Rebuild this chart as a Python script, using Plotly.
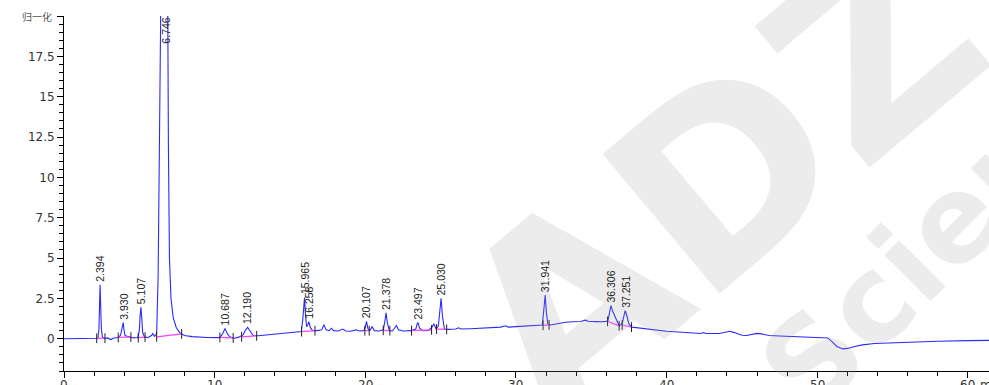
import plotly.graph_objects as go

# Chromatogram trace: retention time (min) and normalised detector signal
time_min = [
    0.0, 1.0, 2.0, 2.25, 2.32, 2.36, 2.394, 2.43, 2.48, 2.55, 2.7, 2.9, 3.1, 3.3,
    3.6, 3.75, 3.85, 3.93, 3.98, 4.05, 4.2, 4.35, 4.6, 4.9, 5.0, 5.05, 5.107, 5.16,
    5.22, 5.35, 5.6, 5.8, 5.9, 6.0, 6.15, 6.25, 6.35, 6.5, 6.746, 6.85, 6.93, 7.0,
    7.1, 7.25, 7.45, 7.7, 8.0, 8.5, 9.5, 10.3, 10.5, 10.687, 10.85, 11.0, 11.3,
    11.6, 11.9, 12.05, 12.19, 12.35, 12.55, 12.9, 13.5, 14.0, 14.5, 15.0, 15.5,
    15.75, 15.85, 15.93, 15.965, 16.02, 16.1, 16.18, 16.258, 16.35, 16.5, 16.8,
    17.1, 17.25, 17.4, 17.6, 17.75, 17.9, 18.2, 18.5, 18.7, 19.0, 19.4, 19.6, 19.9,
    20.0, 20.08, 20.18, 20.3, 20.45, 20.6, 20.9, 21.2, 21.3, 21.378, 21.46, 21.6,
    21.8, 22.0, 22.07, 22.2, 22.5, 23.0, 23.35, 23.45, 23.5, 23.6, 23.8, 24.2,
    24.45, 24.55, 24.7, 24.85, 24.95, 25.03, 25.12, 25.25, 25.5, 25.8, 26.0, 26.2,
    26.35, 27.0, 27.5, 28.0, 28.5, 29.0, 29.3, 29.5, 30.0, 30.5, 31.0, 31.5, 31.75,
    31.85, 31.941, 32.02, 32.12, 32.3, 32.8, 33.3, 33.8, 34.3, 34.6, 34.8, 35.3,
    35.8, 36.1, 36.22, 36.306, 36.4, 36.5, 36.65, 36.85, 37.05, 37.17, 37.251,
    37.34, 37.5, 37.7, 38.0, 38.5, 39.0, 39.5, 40.0, 41.0, 42.0, 42.3, 42.45, 42.6,
    43.5, 44.0, 44.2, 44.5, 45.0, 45.3, 45.7, 46.0, 46.3, 46.8, 47.5, 48.5, 49.5,
    50.3, 50.7, 51.0, 51.3, 51.7, 52.0, 52.5, 53.0, 53.8, 55.0, 56.5, 58.0, 60.0,
    61.4,
]
signal = [
    0.0, 0.0, 0.02, 0.03, 0.6, 2.4, 3.35, 2.2, 0.6, 0.1, 0.02, 0.05, -0.05, 0.05,
    0.08, 0.2, 0.6, 1.0, 0.55, 0.2, 0.15, 0.12, 0.05, 0.08, 0.5, 1.4, 1.95, 1.3,
    0.4, 0.1, 0.08, 0.2, 0.32, 0.15, 0.3, 4.0, 15.0, 28.0, 40.0, 28.0, 12.0, 5.0,
    2.5, 1.3, 0.7, 0.35, 0.2, 0.13, 0.08, 0.07, 0.25, 0.64, 0.3, 0.12, 0.03,
    0.1, 0.25, 0.55, 0.7, 0.45, 0.2, 0.18, 0.24, 0.28, 0.33, 0.38, 0.42,
    0.45, 1.2, 2.4, 2.55, 1.6, 0.75, 0.85, 1.05, 0.7, 0.5, 0.5,
    0.55, 0.87, 0.55, 0.5, 0.65, 0.5, 0.48, 0.6, 0.48, 0.46, 0.55, 0.48, 0.5,
    0.7, 1.07, 0.6, 0.5, 0.75, 0.5, 0.48, 0.55, 1.1, 1.6, 1.0, 0.5,
    0.48, 0.7, 0.82, 0.55, 0.48, 0.5, 0.6, 0.95, 1.0, 0.65, 0.5, 0.52,
    0.75, 0.93, 0.6, 0.8, 1.8, 2.5, 1.4, 0.6, 0.58, 0.6, 0.6, 0.68,
    0.6, 0.62, 0.65, 0.68, 0.7, 0.72, 0.8, 0.72, 0.75, 0.77, 0.8, 0.82, 0.85,
    1.8, 2.71, 1.6, 0.9, 0.85, 0.95, 1.02, 1.05, 1.07, 1.15, 1.08, 1.06,
    1.05, 1.1, 1.7, 2.05, 1.75, 1.55, 1.2, 0.8, 0.95, 1.5, 1.74,
    1.5, 0.9, 0.72, 0.68, 0.62, 0.55, 0.5, 0.46, 0.4, 0.34, 0.32, 0.38, 0.32,
    0.32, 0.42, 0.46, 0.38, 0.22, 0.2, 0.3, 0.33, 0.3, 0.2, 0.17, 0.14, 0.11,
    0.1, 0.05, -0.2, -0.48, -0.63, -0.6, -0.48, -0.38, -0.3, -0.25, -0.2, -0.16, -0.12,
    -0.1,
]

# Integrated peaks: retention time label and apex height
peak_rt = [2.394, 3.930, 5.107, 10.687, 12.190, 15.965, 16.258, 20.107, 21.378,
           23.497, 25.030, 31.941, 36.306, 37.251]
peak_label = ["2.394", "3.930", "5.107", "10.687", "12.190", "15.965", "16.258",
              "20.107", "21.378", "23.497", "25.030", "31.941", "36.306", "37.251"]
peak_height = [3.35, 1.0, 1.95, 0.64, 0.7, 2.55, 1.05, 1.07, 1.6, 1.0, 2.5,
               2.71, 2.05, 1.74]

# Off-scale main peak
main_rt = 6.746
main_label = "6.746"

# Integration baselines: start/end times and levels
base_start_t = [2.17, 3.6, 4.93, 6.15, 10.35, 11.79, 15.77, 19.97, 21.19, 23.07,
                24.73, 31.8, 36.08, 37.05]
base_start_v = [0.03, 0.08, 0.07, 0.12, 0.08, 0.12, 0.44, 0.5, 0.52, 0.5, 0.6,
                0.83, 1.08, 0.85]
base_end_t = [2.72, 4.44, 5.38, 7.81, 11.23, 12.79, 16.66, 20.26, 21.63, 24.4,
              25.4, 32.2, 36.85, 37.67]
base_end_v = [0.03, 0.1, 0.1, 0.3, 0.05, 0.18, 0.5, 0.5, 0.5, 0.55, 0.58,
              0.86, 0.8, 0.72]

x_tick_vals = [0, 10, 20, 30, 40, 50, 60]
x_tick_text = ["0", "10", "20", "30", "40", "50", "60 min"]
y_tick_vals = [0, 2.5, 5, 7.5, 10, 12.5, 15, 17.5, 20]
y_tick_text = ["0", "2.5", "5", "7.5", "10", "12.5", "15", "17.5", ""]

fig = go.Figure()

fig.add_trace(go.Scatter(
    x=time_min, y=signal, mode="lines",
    line=dict(color="#2a2aff", width=1.1), hoverinfo="skip", showlegend=False,
))

# magenta integration baselines
seg_x, seg_y = [], []
for t0, v0, t1, v1 in zip(base_start_t, base_start_v, base_end_t, base_end_v):
    seg_x += [t0, t1, None]
    seg_y += [v0, v1, None]
fig.add_trace(go.Scatter(
    x=seg_x, y=seg_y, mode="lines",
    line=dict(color="#ff40ff", width=1.2), hoverinfo="skip", showlegend=False,
))

# peak start/end markers
fig.add_trace(go.Scatter(
    x=base_start_t + base_end_t, y=base_start_v + base_end_v, mode="markers",
    marker=dict(symbol="line-ns-open", size=7, color="#202020",
                line=dict(color="#202020", width=1)),
    hoverinfo="skip", showlegend=False,
))

label_font = dict(family="Liberation Sans, Arial", size=10.5, color="#222222")
axis_font = dict(family="DejaVu Sans", size=12, color="#333333")
annotations = []
# background watermark
annotations.append(dict(
    x=0.71, y=0.54, xref="paper", yref="paper", text="<b>ADZ</b>", showarrow=False,
    xanchor="center", yanchor="middle", textangle=-40,
    font=dict(family="DejaVu Sans", size=250, color="rgba(150,150,150,0.18)"),
))
annotations.append(dict(
    x=0.975, y=0.46, xref="paper", yref="paper", text="<b>Science</b>", showarrow=False,
    xanchor="center", yanchor="middle", textangle=-45,
    font=dict(family="DejaVu Sans", size=120, color="rgba(150,150,150,0.18)"),
))
for t, lab, h in zip(peak_rt, peak_label, peak_height):
    annotations.append(dict(
        x=t, y=h, xref="x", yref="y", text=lab, textangle=-90, showarrow=False,
        xanchor="center", yanchor="bottom", yshift=1, font=label_font,
    ))
annotations.append(dict(
    x=main_rt, y=20, xref="x", yref="y", text=main_label, textangle=-90,
    showarrow=False, xanchor="center", yanchor="top", font=label_font,
))
# y-axis unit label at the top of the scale
annotations.append(dict(
    x=0, y=20, xref="paper", yref="y", text="归一化", showarrow=False,
    xanchor="right", yanchor="middle", xshift=-10,
    font=dict(family="Noto Sans CJK SC", size=10, color="#555555"),
))
# x tick labels, set just below the tick marks
for v, lab in zip(x_tick_vals, x_tick_text):
    if " " in lab:
        num, unit = lab.split(" ")
        annotations.append(dict(
            x=v, y=0, xref="x", yref="paper", text=num, showarrow=False,
            xanchor="center", yanchor="top", yshift=-5, font=axis_font,
        ))
        annotations.append(dict(
            x=v, y=0, xref="x", yref="paper", text=unit, showarrow=False,
            xanchor="left", yanchor="top", xshift=10, yshift=-5, font=axis_font,
        ))
    else:
        annotations.append(dict(
            x=v, y=0, xref="x", yref="paper", text=lab, showarrow=False,
            xanchor="center", yanchor="top", yshift=-5, font=axis_font,
        ))
fig.update_layout(annotations=annotations)

fig.update_layout(
    width=989, height=385,
    margin=dict(l=64, r=0, t=16, b=14, autoexpand=False),
    paper_bgcolor="white", plot_bgcolor="white",
    xaxis=dict(
        range=[0, 61.4], tickmode="array", tickvals=x_tick_vals, showticklabels=False,
        showgrid=False, zeroline=False, showline=True, linecolor="black", linewidth=1,
        ticks="outside", ticklen=6, tickcolor="black",
        minor=dict(tickmode="linear", tick0=0, dtick=2, ticks="outside", ticklen=4,
                   tickcolor="black"),
    ),
    yaxis=dict(
        range=[-2, 20], tickmode="array", tickvals=y_tick_vals, ticktext=y_tick_text,
        showgrid=False, zeroline=False, showline=True, linecolor="black", linewidth=1,
        ticks="outside", ticklen=6, tickcolor="black",
        minor=dict(tickmode="linear", tick0=0, dtick=0.5, ticks="outside", ticklen=4,
                   tickcolor="black"),
        tickfont=axis_font,
    ),
)

fig.write_html("out.html")
